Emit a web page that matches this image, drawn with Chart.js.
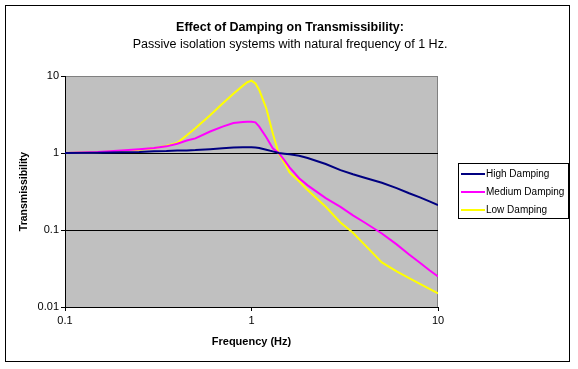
<!DOCTYPE html>
<html>
<head>
<meta charset="utf-8">
<script src="https://cdn.jsdelivr.net/npm/chart.js@4.4.1/dist/chart.umd.min.js"></script>
<style>
  html, body { margin: 0; padding: 0; background: #fff; }
  canvas { display: block; }
</style>
</head>
<body>
<canvas id="transChart" width="578" height="369"></canvas>
<script>
// frequency points (Hz) and transmissibility
const frequencies = [0.1, 0.15, 0.2, 0.25, 0.3, 0.35, 0.4, 0.45, 0.5, 0.6, 0.7, 0.8, 0.9, 0.95, 1.0, 1.05,
    1.1, 1.2, 1.3, 1.4, 1.5, 1.6, 1.8, 2.0, 2.5, 3.0, 3.5, 4.0, 5.0, 6.0, 7.0, 8.0, 9.0, 10];
const highDamping = [1.0, 1.01, 1.02, 1.03, 1.05, 1.06, 1.08, 1.08, 1.09, 1.12, 1.15, 1.18, 1.19, 1.19, 1.19, 1.18,
    1.16, 1.1, 1.05, 1.0, 0.98, 0.96, 0.92, 0.86, 0.72, 0.6, 0.53, 0.48, 0.41, 0.35, 0.3, 0.265, 0.235, 0.21];
const mediumDamping = [1.0, 1.03, 1.08, 1.12, 1.16, 1.22, 1.32, 1.45, 1.55, 1.9, 2.2, 2.45, 2.52, 2.55, 2.55, 2.5,
    2.2, 1.6, 1.15, 1.0, 0.81, 0.65, 0.47, 0.38, 0.26, 0.2, 0.155, 0.127, 0.09, 0.065, 0.048, 0.0375, 0.03, 0.025];
const lowDamping = [1.0, 1.02, 1.06, 1.1, 1.15, 1.24, 1.36, 1.7, 2.1, 3.1, 4.4, 5.9, 7.5, 8.3, 8.7, 8.0,
    6.6, 3.8, 1.8, 0.98, 0.75, 0.56, 0.43, 0.33, 0.2, 0.125, 0.092, 0.066, 0.038, 0.029, 0.0237, 0.0199, 0.0172, 0.015];
const seriesNames = ['High Damping', 'Medium Damping', 'Low Damping'];
const seriesColors = ['#000080', '#FF00FF', '#FFFF00'];
const xTickValues = [0.1, 1, 10];
const yTickValues = [0.01, 0.1, 1, 10];

Chart.defaults.font.family = 'Arial, "Liberation Sans", sans-serif';
Chart.defaults.color = '#000';

const toPoints = values => frequencies.map((f, i) => ({ x: f, y: values[i] }));

// grey plot area and the outer chart frame
const frame = {
    id: 'frame',
    beforeDraw(chart) {
        const { ctx, chartArea: a } = chart;
        ctx.save();
        ctx.fillStyle = '#C0C0C0';
        ctx.fillRect(a.left, a.top, a.right - a.left, a.bottom - a.top);
        ctx.strokeStyle = '#808080';
        ctx.lineWidth = 1;
        ctx.strokeRect(a.left + 0.5, a.top + 0.5, a.right - a.left - 1, a.bottom - a.top);
        ctx.strokeStyle = '#000';
        ctx.strokeRect(5.5, 5.5, 564, 356);
        ctx.restore();
    }
};

// boxed legend to the right of the plot, Excel style
const boxLegend = {
    id: 'boxLegend',
    afterDraw(chart) {
        const { ctx, chartArea: a } = chart;
        const left = a.right + 20, top = 163, w = 110, h = 55;
        ctx.save();
        ctx.fillStyle = '#fff';
        ctx.fillRect(left, top, w, h);
        ctx.strokeStyle = '#000';
        ctx.lineWidth = 1;
        ctx.strokeRect(left + 0.5, top + 0.5, w, h);
        ctx.font = '10px Arial, "Liberation Sans", sans-serif';
        ctx.textBaseline = 'middle';
        chart.data.datasets.forEach((ds, i) => {
            const y = top + 11 + i * 18;
            ctx.strokeStyle = ds.borderColor;
            ctx.lineWidth = 2;
            ctx.beginPath();
            ctx.moveTo(left + 3, y);
            ctx.lineTo(left + 27, y);
            ctx.stroke();
            ctx.fillStyle = '#000';
            ctx.fillText(ds.label, left + 28, y);
        });
        ctx.restore();
    }
};

const ctx = document.getElementById('transChart').getContext('2d');

new Chart(ctx, {
    type: 'line',
    data: {
        datasets: [
            { label: seriesNames[0], data: toPoints(highDamping), borderColor: seriesColors[0] },
            { label: seriesNames[1], data: toPoints(mediumDamping), borderColor: seriesColors[1] },
            { label: seriesNames[2], data: toPoints(lowDamping), borderColor: seriesColors[2] }
        ].map(ds => Object.assign(ds, {
            yAxisID: 'y', borderWidth: 2, pointRadius: 0, tension: 0, fill: false
        }))
    },
    options: {
        responsive: false,
        animation: false,
        layout: { padding: { left: 2, top: 0, right: 0, bottom: 0 } },
        scales: {
            x: {
                type: 'logarithmic',
                min: 0.1,
                max: 10,
                afterBuildTicks: s => { s.ticks = xTickValues.map(v => ({ value: v })); },
                afterFit: s => { s.height = 62; },
                ticks: { font: { size: 11 }, padding: 3, maxRotation: 0, callback: v => String(v) },
                grid: { drawOnChartArea: false, drawTicks: true, tickLength: 4, tickColor: '#000' },
                border: { color: '#000', width: 1 },
                title: {
                    display: true,
                    text: 'Frequency (Hz)',
                    font: { size: 11, weight: 'bold' },
                    padding: { top: 0, bottom: 20 }
                }
            },
            y: {
                type: 'logarithmic',
                min: 0.01,
                max: 10,
                afterBuildTicks: s => { s.ticks = yTickValues.map(v => ({ value: v })); },
                afterFit: s => { s.width = 63; },
                ticks: { font: { size: 11 }, padding: 2, callback: v => String(v) },
                grid: {
                    color: c => (c.tick && (c.tick.value === 0.1 || c.tick.value === 1)) ? '#000' : 'rgba(0,0,0,0)',
                    lineWidth: 1,
                    drawTicks: true,
                    tickLength: 4,
                    tickColor: '#000'
                },
                border: { color: '#000', width: 1 },
                title: {
                    display: true,
                    text: 'Transmissibility',
                    font: { size: 10.5, weight: 'bold' },
                    padding: { top: 16, bottom: 0 }
                }
            },
            legendSpace: {
                type: 'linear',
                position: 'right',
                display: true,
                grid: { display: false, drawTicks: false },
                border: { display: false },
                ticks: { display: false },
                afterFit: s => { s.width = 140; }
            }
        },
        plugins: {
            legend: { display: false },
            tooltip: { enabled: false },
            title: {
                display: true,
                text: 'Effect of Damping on Transmissibility:',
                font: { size: 12.5, weight: 'bold' },
                padding: { top: 20, bottom: 2 }
            },
            subtitle: {
                display: true,
                text: 'Passive isolation systems with natural frequency of 1 Hz.',
                font: { size: 12.5, weight: 'normal' },
                padding: { top: 0, bottom: 24 }
            }
        }
    },
    plugins: [frame, boxLegend]
});
</script>
</body>
</html>
